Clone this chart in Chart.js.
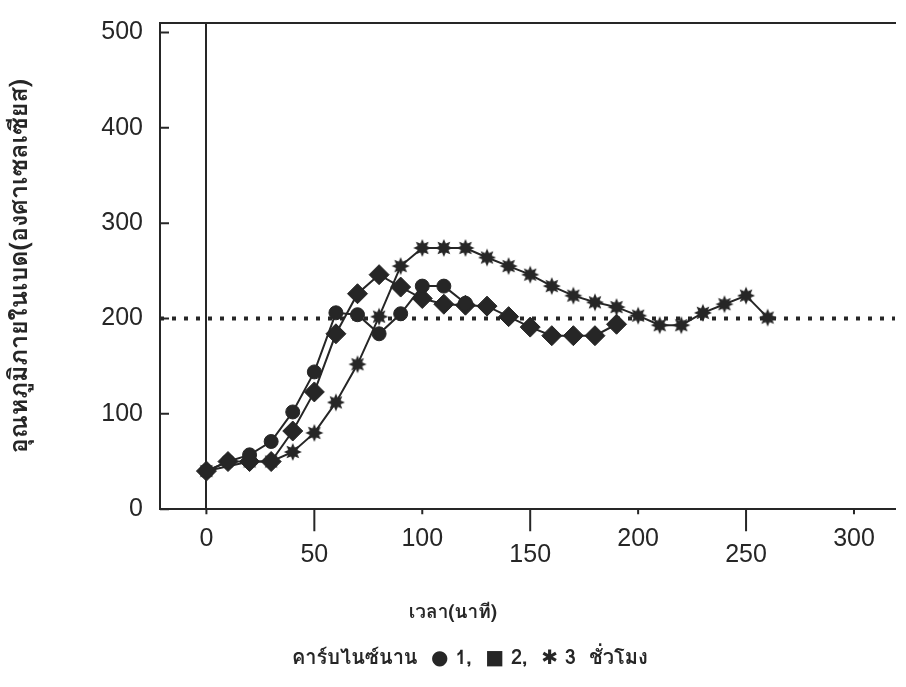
<!DOCTYPE html>
<html>
<head>
<meta charset="utf-8">
<script src="https://cdn.jsdelivr.net/npm/chart.js@4.4.1/dist/chart.umd.min.js"></script>
<style>
  html, body { margin: 0; padding: 0; background: #fff; }
  #wrap { width: 906px; height: 687px; }
</style>
</head>
<body>
<div id="wrap"><canvas id="tempChart"></canvas></div>
<script>
// bed temperature vs time, one series per carbonisation time
const time1 = [0, 10, 20, 30, 40, 50, 60, 70, 80, 90, 100, 110, 120];
const temp1 = [40, 50, 57, 71, 102, 144, 206, 204, 184, 205, 234, 234, 216];

const time2 = [0, 10, 20, 30, 40, 50, 60, 70, 80, 90, 100, 110, 120, 130, 140, 150, 160, 170, 180, 190];
const temp2 = [40, 50, 50, 50, 82, 123, 184, 226, 246, 233, 221, 215, 214, 213, 202, 191, 182, 182, 182, 194];

const time3 = [0, 20, 30, 40, 50, 60, 70, 80, 90, 100, 110, 120, 130, 140, 150, 160, 170, 180, 190, 200, 210, 220, 230, 240, 250, 260];
const temp3 = [40, 50, 50, 60, 80, 112, 152, 202, 255, 274, 274, 274, 264, 255, 246, 234, 224, 217, 212, 203, 193, 193, 206, 215, 224, 201];

const xTicks = [0, 50, 100, 150, 200, 250, 300];
const yTicks = [0, 100, 200, 300, 400, 500];
const refTemp = 200;
const xMin = -21.5, xMax = 319;
const yMin = 0, yMax = 510;

const ink = '#262626';
const numFont = '"Liberation Sans", Arial, sans-serif';
const thaiFont = '"Tlwg Typist", "Tlwg Typo", "Norasi", "Garuda", "Loma", "Noto Sans Thai", "Noto Serif Thai", "DejaVu Sans", serif';

const pts = (xs, ys) => xs.map((x, i) => ({ x: x, y: ys[i] }));

// filled starburst used as the marker of series 3
const starImg = document.createElement('canvas');
starImg.width = 20;
starImg.height = 20;
(function () {
    const c = starImg.getContext('2d');
    c.fillStyle = ink;
    c.beginPath();
    for (let i = 0; i < 16; i++) {
        const r = i % 2 === 0 ? 9 : 5;
        const a = i * Math.PI / 8;
        const px = 10 + r * Math.cos(a), py = 10 + r * Math.sin(a);
        if (i === 0) c.moveTo(px, py); else c.lineTo(px, py);
    }
    c.closePath();
    c.fill();
})();

// x ticks hang below the axis (long ones under the lower label row), y ticks point inwards
const axisTicks = {
    id: 'axisTicks',
    beforeDatasetsDraw(chart) {
        const { ctx, chartArea, scales } = chart;
        ctx.save();
        ctx.strokeStyle = ink;
        ctx.lineWidth = 2;
        ctx.beginPath();
        xTicks.forEach(v => {
            const px = scales.x.getPixelForValue(v);
            ctx.moveTo(px, chartArea.bottom);
            ctx.lineTo(px, chartArea.bottom + (v % 100 === 0 ? 5 : 22));
        });
        yTicks.forEach(v => {
            const py = scales.y.getPixelForValue(v);
            ctx.moveTo(chartArea.left, py);
            ctx.lineTo(chartArea.left + 9, py);
        });
        ctx.stroke();
        ctx.restore();
    }
};

const ctx = document.getElementById('tempChart').getContext('2d');
const chart = new Chart(ctx, {
    type: 'line',
    data: {
        datasets: [
            {
                label: '1',
                data: pts(time1, temp1),
                borderColor: ink,
                backgroundColor: ink,
                borderWidth: 2,
                pointStyle: 'circle',
                pointRadius: 7,
                pointBorderWidth: 1,
                order: 1
            },
            {
                label: '2',
                data: pts(time2, temp2),
                borderColor: ink,
                backgroundColor: ink,
                borderWidth: 2,
                pointStyle: 'rectRot',
                pointRadius: 10,
                pointBorderWidth: 1,
                order: 2
            },
            {
                label: '3',
                data: pts(time3, temp3),
                borderColor: ink,
                backgroundColor: ink,
                borderWidth: 2,
                pointStyle: starImg,
                pointRadius: 9,
                order: 3
            },
            {
                label: 'ref',
                data: [{ x: xMin, y: refTemp }, { x: xMax, y: refTemp }],
                borderColor: ink,
                borderWidth: 4,
                borderDash: [4, 8],
                pointRadius: 0,
                order: 4
            }
        ]
    },
    options: {
        responsive: true,
        maintainAspectRatio: false,
        animation: false,
        layout: { padding: { top: 23, left: 0, right: 0, bottom: 0 } },
        plugins: {
            legend: { display: false },
            tooltip: { enabled: false },
            subtitle: {
                display: true,
                position: 'bottom',
                text: 'เวลา(นาที)',
                color: ink,
                font: { family: thaiFont, size: 19, weight: 'bold', lineHeight: 1.2 },
                padding: { top: 0, bottom: 23 }
            },
            title: {
                display: true,
                position: 'bottom',
                text: '     คาร์บไนซ์นาน  ● 1,  ■ 2,  ✱ 3  ชั่วโมง',
                color: ink,
                font: { family: thaiFont, size: 20, weight: 'bold', lineHeight: 1.2 },
                padding: { top: 0, bottom: 15 }
            }
        },
        scales: {
            x: {
                type: 'linear',
                position: 'bottom',
                min: xMin,
                max: xMax,
                afterBuildTicks: s => { s.ticks = xTicks.map(v => ({ value: v })); },
                afterFit: s => { s.height = 93; s.paddingLeft = 0; s.paddingRight = 0; },
                ticks: {
                    color: ink,
                    padding: 21.5,
                    font: { family: numFont, size: 25, lineHeight: 0.64 },
                    callback: v => (v % 100 === 0 ? [String(v), ''] : ['', String(v)])
                },
                grid: {
                    drawTicks: false,
                    lineWidth: 2,
                    color: c => (c.tick && c.tick.value === 0 ? ink : 'rgba(0,0,0,0)')
                },
                border: { display: true, color: ink, width: 2 }
            },
            x2: {
                type: 'linear',
                position: 'top',
                min: xMin,
                max: xMax,
                afterFit: s => { s.height = 0; s.paddingLeft = 0; s.paddingRight = 0; },
                ticks: { display: false },
                grid: { display: false },
                border: { display: true, color: ink, width: 2 }
            },
            y: {
                type: 'linear',
                min: yMin,
                max: yMax,
                afterBuildTicks: s => { s.ticks = yTicks.map(v => ({ value: v })); },
                afterFit: s => { s.width = 160; s.paddingTop = 0; s.paddingBottom = 0; },
                ticks: {
                    color: ink,
                    padding: 17,
                    font: { family: numFont, size: 25 }
                },
                grid: { display: false, drawTicks: false },
                border: { display: true, color: ink, width: 2 },
                title: {
                    display: true,
                    text: 'อุณหภูมิภายในเบด(องศาเซลเซียส)',
                    color: ink,
                    font: { family: thaiFont, size: 25, weight: 'bold', lineHeight: 1.2 },
                    padding: { top: 6, bottom: 0 }
                }
            }
        }
    },
    plugins: [axisTicks]
});
</script>
</body>
</html>
